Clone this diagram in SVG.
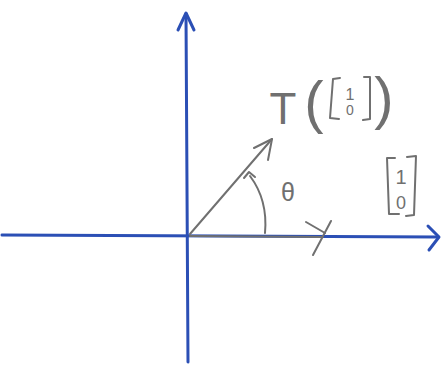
<svg xmlns="http://www.w3.org/2000/svg" width="446" height="365" viewBox="0 0 446 365">
<style>
.axis{stroke:#2b4fb5;stroke-width:3;fill:none;stroke-linecap:round;stroke-linejoin:round}
.pen{stroke:#707070;stroke-width:2;fill:none;stroke-linecap:round;stroke-linejoin:round}
.lbl{font-family:"Liberation Sans",Arial,sans-serif;fill:#707070}
</style>
<rect width="446" height="365" fill="#ffffff"/>
<g id="axes">
<path class="axis" d="M188 362 L186 14"/>
<path class="axis" d="M178 30 L186 13 L194 30"/>
<path class="axis" d="M2 235 L438 237"/>
<path class="axis" d="M428 226 L439 237 L429 250"/>
</g>
<g id="connectors">
<path class="pen" d="M190 234 L272 139"/>
<path class="pen" d="M254 148 L272 139 L268 160"/>
<path class="pen" d="M190 236 L322 237" stroke-width="4"/>
<path class="pen" d="M306 222 L325 233"/>
<path class="pen" d="M331 221 L313 255"/>
<path class="pen" d="M250 176 Q268 200 265 233"/>
<path class="pen" d="M244 178 L249 172 L255 177"/>
</g>
<g id="theta">
<text class="lbl" x="288" y="201" font-size="25" text-anchor="middle">θ</text>
</g>
<g id="vec10">
<path class="pen" d="M395 158 L387 158 L389 214 L399 214"/>
<path class="pen" d="M407 157 L416 156 L414 215 L406 216"/>
<text class="lbl" x="401" y="184" font-size="20" text-anchor="middle">1</text>
<text class="lbl" x="401" y="209" font-size="18" text-anchor="middle">0</text>
</g>
<g id="Tlabel">
<text class="lbl" x="283" y="124" font-size="44" text-anchor="middle">T</text>
<text class="lbl" x="314" y="122" font-size="58" text-anchor="middle">(</text>
<path class="pen" d="M340 78 L333 79 L330 118 L339 119"/>
<path class="pen" d="M364 77 L370 77 L370 119 L363 120"/>
<text class="lbl" x="350" y="100" font-size="16" text-anchor="middle">1</text>
<text class="lbl" x="350" y="115" font-size="14" text-anchor="middle">0</text>
<text class="lbl" x="384" y="118" font-size="58" text-anchor="middle">)</text>
</g>
</svg>
